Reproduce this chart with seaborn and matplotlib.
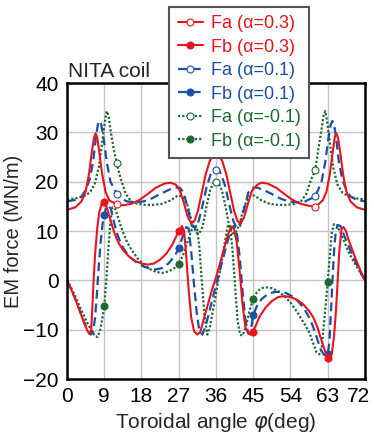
import numpy as np
import pandas as pd
import seaborn as sns
import matplotlib.pyplot as plt
import matplotlib.transforms as mtransforms
from matplotlib.lines import Line2D

# toroidal angle (deg) and EM force (MN/m)
phi_fa_r = [0, 2, 3.5, 4.5, 5.3, 6, 6.5, 6.9, 7.3, 7.8, 8.5, 9.3, 10.2, 12, 13.5, 15.5, 17.5, 19.5, 21.5, 23.5,
            25, 26.3, 27.3, 28.3, 29.2, 30, 30.8, 31.6, 32.5, 33.5, 34.5, 35.3, 36, 36.7, 37.5, 38.5, 39.5, 40.4, 41.2, 42,
            42.8, 43.7, 44.7, 46, 47, 48.5, 50.5, 52.5, 54.5, 56.5, 58.5, 60, 61.8, 62.7, 63.5, 64.2, 64.7, 65.1, 65.5, 66,
            66.7, 67.5, 68.5, 70, 72]
fa_r = [14.3, 14.8, 16.0, 18.0, 21.5, 26.0, 28.8, 29.8, 29.0, 26.0, 21.5, 18.0, 16.2, 15.4, 15.2, 15.5, 16.3, 17.5, 18.8, 19.6,
        19.8, 19.4, 18.2, 15.5, 12.8, 11.6, 12.0, 14.0, 17.5, 21.5, 24.2, 25.4, 25.6, 25.4, 24.2, 21.5, 17.5, 14.0, 12.0, 11.6,
        12.8, 15.5, 18.2, 19.4, 19.8, 19.6, 18.8, 17.5, 16.3, 15.5, 15.1, 14.9, 16.2, 18.0, 21.5, 26.0, 29.0, 29.8, 28.8, 26.0,
        21.5, 18.0, 16.0, 14.8, 14.3]

phi_fa_b = [0, 2, 3.5, 4.5, 5.5, 6.3, 7.0, 7.5, 7.9, 8.3, 8.9, 9.6, 10.5, 12, 13, 14.5, 16.5, 18.5, 20.5, 22.5,
            24.5, 26, 27.2, 28.2, 29.2, 30.2, 31, 31.8, 32.7, 33.7, 34.7, 35.4, 36, 36.6, 37.3, 38.3, 39.3, 40.2, 41, 41.8,
            42.8, 43.8, 45, 46, 47.5, 49.5, 51.5, 53.5, 55.5, 57.5, 59, 60, 61.5, 62.4, 63.1, 63.7, 64.1, 64.5, 65, 65.7,
            66.5, 67.5, 68.5, 70, 72]
fa_b = [16.0, 16.3, 17.0, 18.3, 20.5, 24.0, 29.0, 31.8, 32.3, 31.5, 28.5, 24.0, 20.0, 17.6, 16.6, 16.0, 15.8, 16.0, 16.6, 17.5,
        18.3, 18.8, 18.8, 17.8, 14.5, 11.0, 10.6, 12.0, 15.0, 18.8, 21.5, 22.3, 22.4, 22.3, 21.5, 18.8, 15.0, 12.0, 10.6, 11.0,
        14.5, 17.8, 18.8, 18.8, 18.3, 17.5, 16.6, 16.0, 15.8, 16.0, 16.6, 17.0, 20.0, 24.0, 28.5, 31.5, 32.3, 31.8, 29.0, 24.0,
        20.5, 18.3, 17.0, 16.3, 16.0]

phi_fa_g = [0, 2, 4, 5.5, 6.7, 7.7, 8.5, 9.2, 9.6, 10.0, 10.6, 11.3, 12, 13, 14.2, 15.5, 17, 19, 21, 23,
            25, 26.8, 28, 29.2, 30.3, 31.2, 32, 32.8, 33.7, 34.6, 35.4, 36, 36.6, 37.4, 38.3, 39.2, 40, 40.8, 41.7, 42.8,
            44, 45.2, 47, 49, 51, 53, 55, 56.5, 57.8, 59, 60, 60.7, 61.4, 62, 62.4, 62.8, 63.5, 64.3, 65.3, 66.5,
            68, 70, 72]
fa_g = [16.4, 16.6, 17.0, 17.8, 19.5, 23.0, 28.0, 32.5, 34.3, 33.5, 30.0, 26.5, 23.8, 20.5, 17.5, 16.0, 15.5, 15.3, 15.3, 15.5,
        16.2, 17.2, 17.0, 15.0, 11.5, 9.7, 9.5, 11.0, 15.0, 18.3, 19.8, 20.0, 19.8, 18.3, 15.0, 11.0, 9.5, 9.7, 11.5, 15.0,
        17.0, 17.2, 16.2, 15.5, 15.3, 15.3, 15.5, 16.0, 17.5, 20.5, 22.3, 26.5, 30.0, 33.5, 34.3, 32.5, 28.0, 23.0, 19.5, 17.8,
        17.0, 16.6, 16.4]

phi_fb_r = [0, 1, 2, 3, 4, 4.8, 5.3, 5.8, 6.1, 6.4, 6.8, 7.3, 7.8, 8.4, 9, 9.6, 10.5, 11.5, 12.5, 13.5,
            15, 16.5, 18, 19.5, 21, 22.5, 24, 25.5, 27, 27.8, 28.3, 28.8, 29.4, 30, 30.7, 31.5, 32.2, 33, 34, 35,
            36, 37, 38, 39, 39.7, 40.3, 41, 41.7, 42.4, 43.1, 43.7, 44.3, 45, 46.5, 48, 49.5, 51, 52.5, 54, 55.5,
            57, 58.5, 59.5, 60.5, 61.5, 62.4, 63, 63.5, 64, 64.5, 65, 65.4, 65.8, 66.3, 66.8, 67.4, 68, 69, 70, 71,
            72]
fb_r = [0.0, -1.8, -3.8, -6.0, -8.3, -10.0, -10.8, -10.5, -6.0, -0.5, 5.5, 10.5, 13.8, 15.6, 15.9, 14.8, 12.2, 9.5, 7.5, 6.2,
        4.8, 3.9, 3.4, 3.2, 3.4, 4.2, 5.4, 7.3, 10.0, 11.0, 10.0, 5.0, -2.0, -7.5, -10.3, -11.0, -10.5, -8.0, -5.0, -2.0,
        0.6, 3.5, 6.6, 9.5, 10.9, 10.6, 7.8, 2.0, -4.8, -9.5, -10.6, -11.0, -10.4, -7.4, -5.5, -4.2, -3.4, -3.2, -3.4, -3.9,
        -4.8, -6.2, -7.5, -9.5, -12.2, -14.5, -15.8, -15.9, -14.8, -11.5, -6.0, 0.0, 6.0, 10.3, 10.8, 10.0, 8.3, 6.0, 3.8, 1.8,
        0.0]

phi_fb_b = [0, 1, 2, 3, 4, 5, 5.7, 6.3, 6.8, 7.2, 7.6, 8.1, 8.6, 9, 9.5, 10, 10.6, 11.3, 12, 13,
            14, 15.5, 17, 18.5, 20, 21.5, 23, 24.5, 26, 27, 28, 28.8, 29.4, 30, 30.7, 31.4, 32, 32.7, 33.4, 34.2,
            35, 36, 37, 38, 39, 39.8, 40.4, 41, 41.7, 42.4, 43.1, 43.8, 44.3, 45, 46, 47, 48.5, 50, 51.5, 53,
            54.5, 56, 57.5, 58.5, 59.5, 60.5, 61.3, 62, 62.6, 63, 63.4, 63.8, 64.2, 64.6, 65, 65.5, 66.1, 67, 68, 69,
            70, 71, 72]
fb_b = [0.0, -1.8, -3.8, -6.0, -8.2, -10.2, -11.0, -10.5, -7.5, -3.0, 2.0, 7.5, 11.5, 13.3, 14.7, 15.2, 14.5, 12.0, 9.7, 7.5,
        6.0, 4.5, 3.5, 2.8, 2.4, 2.2, 2.5, 3.4, 4.9, 6.5, 9.0, 10.8, 10.5, 6.0, -1.0, -7.0, -10.3, -11.0, -9.5, -7.0,
        -4.2, -1.0, 2.3, 5.4, 8.5, 10.8, 11.0, 9.8, 5.0, -2.0, -8.0, -10.8, -10.8, -7.0, -5.0, -3.8, -2.8, -2.4, -2.3, -2.6,
        -3.3, -4.4, -6.0, -7.5, -9.5, -12.0, -14.0, -15.0, -15.3, -15.0, -12.5, -6.0, 1.0, 7.0, 10.3, 11.2, 11.0, 9.0, 7.0, 5.0,
        3.2, 1.5, 0.0]

phi_fb_g = [0, 1, 2, 3, 4, 5, 6, 6.8, 7.4, 8, 8.5, 9, 9.5, 10, 10.5, 11, 11.6, 12.3, 13.2, 14.2,
            15.5, 17, 18.5, 20, 21.5, 23, 24.5, 25.8, 27, 28, 29, 30, 30.8, 31.4, 32, 32.6, 33.2, 33.9, 34.5, 35.5,
            36.5, 37.5, 38.3, 38.9, 39.4, 40, 40.6, 41.2, 41.8, 42.4, 43.2, 44, 45, 46, 47, 48, 49.5, 51, 52.5, 54,
            55.5, 57, 58.5, 59.5, 60.3, 61, 61.5, 62, 62.5, 63, 63.5, 64, 64.5, 65.2, 66, 67, 68, 69, 70, 71,
            72]
fb_g = [0.0, -1.5, -3.3, -5.2, -7.0, -8.8, -10.3, -11.3, -11.5, -10.0, -8.0, -5.2, 0.0, 6.5, 12.0, 14.8, 14.6, 12.8, 10.5, 8.3,
        6.3, 4.5, 3.2, 2.3, 1.7, 1.5, 1.8, 2.4, 3.4, 5.0, 7.5, 10.0, 11.3, 10.8, 6.5, -0.5, -7.0, -11.0, -9.5, -5.0,
        -0.3, 4.5, 8.5, 11.2, 11.0, 6.0, -1.0, -8.0, -11.0, -11.2, -9.5, -6.5, -3.7, -2.2, -1.6, -1.4, -1.6, -2.2, -3.2, -4.5,
        -6.3, -8.3, -10.5, -12.8, -14.6, -15.0, -14.0, -9.5, -5.0, -0.3, 5.0, 9.8, 11.4, 11.2, 9.8, 7.8, 5.8, 4.2, 2.8, 1.4,
        0.0]

fa_marks = [12, 36, 60]
fb_marks = [9, 27, 45, 63]
x_ticks = [0, 9, 18, 27, 36, 45, 54, 63, 72]
y_ticks = [-20, -10, 0, 10, 20, 30, 40]

RED, BLUE, GREEN = '#e8141c', '#1b4fa8', '#1d6b34'
DASH = (0, (4, 2.2))
DOT = (0, (1, 0.9))

sns.set_theme(style='whitegrid')
plt.rcParams['font.family'] = ['Liberation Sans', 'DejaVu Sans']
plt.rcParams['mathtext.fontset'] = 'dejavusans'

fig = plt.figure(figsize=(3.74, 4.36), dpi=100)
ax = fig.add_axes([67 / 374, 1 - 379 / 436, 298 / 374, 296 / 436])

# (phi, F, color, linestyle, lw, open marker?, marker positions, label)
series = [
    (phi_fa_g, fa_g, GREEN, DOT, 1.6, True, fa_marks, 'Fa (α=-0.1)'),
    (phi_fb_g, fb_g, GREEN, DOT, 1.6, False, fb_marks, 'Fb (α=-0.1)'),
    (phi_fa_b, fa_b, BLUE, DASH, 1.6, True, fa_marks, 'Fa (α=0.1)'),
    (phi_fb_b, fb_b, BLUE, DASH, 1.6, False, fb_marks, 'Fb (α=0.1)'),
    (phi_fa_r, fa_r, RED, '-', 1.5, True, fa_marks, 'Fa (α=0.3)'),
    (phi_fb_r, fb_r, RED, '-', 1.5, False, fb_marks, 'Fb (α=0.3)'),
]

handles = {}
for phi, f, col, ls, lw, opened, marks, label in series:
    idx = [phi.index(m) for m in marks]
    df = pd.DataFrame({'phi': phi, 'F': f})
    style = dict(color=col, linestyle=ls, linewidth=lw, marker='o', markersize=5,
                 markerfacecolor='white' if opened else col, markeredgecolor=col,
                 markeredgewidth=0.8)
    sns.lineplot(data=df, x='phi', y='F', ax=ax, markevery=idx, legend=False, **style)
    handles[label] = Line2D([], [], **style)

ax.set_xlim(0, 72)
ax.set_ylim(-20, 40)
ax.set_xticks(x_ticks)
ax.set_yticks(y_ticks)
ax.grid(True, color='#c4c4c4', linewidth=1.0)
ax.tick_params(length=0, labelsize=15, pad=6, colors='black')
for sp in ax.spines.values():
    sp.set_color('black')
    sp.set_linewidth(1.8)
ax.set_xlabel('Toroidal angle $\\varphi$(deg)', fontsize=15, labelpad=3)
ax.set_ylabel('EM force (MN/m)', fontsize=14.5)
ax.yaxis.set_label_coords(-0.148, 0.5)

# last x tick label sits a bit inside the figure edge
shift = mtransforms.ScaledTranslation(-7 / 100, 0, fig.dpi_scale_trans)
last = ax.get_xticklabels()[-1]
last.set_transform(last.get_transform() + shift)

fig.text(68 / 374, 1 - 77 / 436, 'NITA coil', fontsize=15, va='baseline', ha='left')

order = ['Fa (α=0.3)', 'Fb (α=0.3)', 'Fa (α=0.1)', 'Fb (α=0.1)', 'Fa (α=-0.1)', 'Fb (α=-0.1)']
colors = [RED, RED, BLUE, BLUE, GREEN, GREEN]
leg = fig.legend([handles[k] for k in order], order, loc='upper right',
                 bbox_to_anchor=(309 / 374, 1 - 7 / 436), bbox_transform=fig.transFigure,
                 fontsize=13, frameon=True, fancybox=False, framealpha=1, edgecolor='#555555',
                 handlelength=1.4, handletextpad=0.45, labelspacing=0.36, borderpad=0.45, borderaxespad=0)
leg.get_frame().set_linewidth(1.5)
for txt, c in zip(leg.get_texts(), colors):
    txt.set_color(c)

fig.savefig('out.png', dpi=100)
